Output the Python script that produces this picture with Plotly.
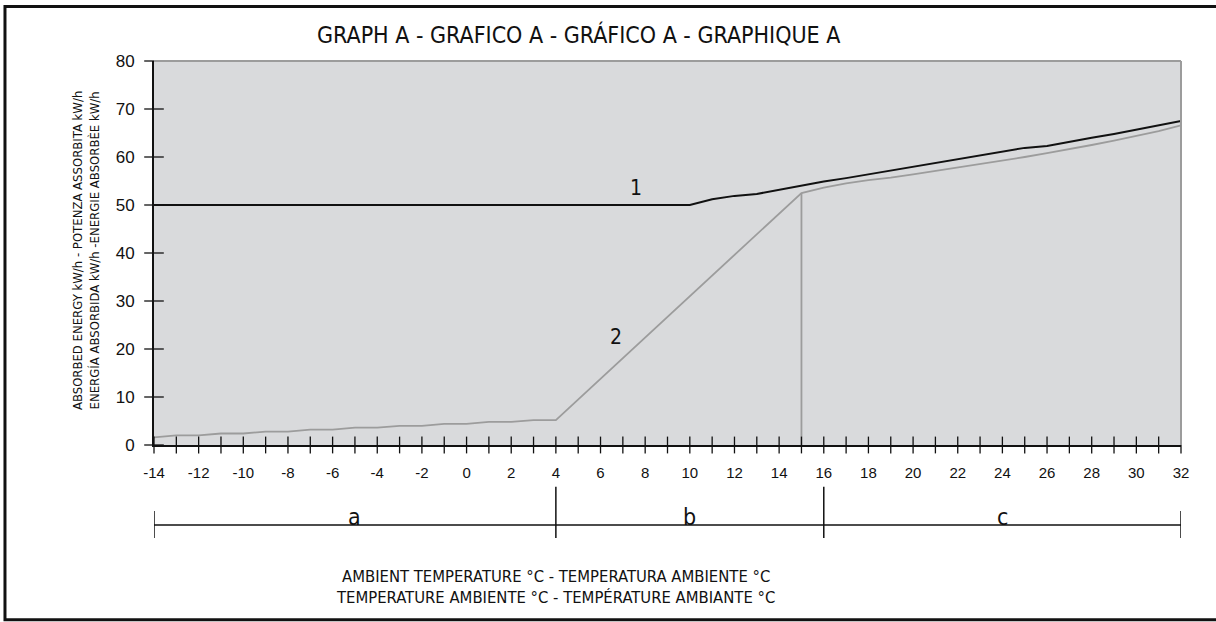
import plotly.graph_objects as go

# curve 1 (black) and curve 2 (grey)
temps_1 = list(range(-14, 33))
energy_1 = [50, 50, 50, 50, 50, 50, 50, 50, 50, 50, 50, 50, 50, 50, 50, 50, 50, 50, 50, 50, 50, 50, 50, 50, 50,
            51.2, 51.9, 52.3, 53.2, 54.1, 54.9, 55.6, 56.4, 57.2, 58.0, 58.7, 59.5, 60.3, 61.1, 61.9, 62.3,
            63.2, 64.0, 64.8, 65.7, 66.6, 67.5]

temps_2 = [-14, -13, -12, -11, -10, -9, -8, -7, -6, -5, -4, -3, -2, -1, 0, 1, 2, 3, 4,
           15, 16, 17, 18, 19, 20, 21, 22, 23, 24, 25, 26, 27, 28, 29, 30, 31, 32]
energy_2 = [1.6, 2.0, 2.0, 2.4, 2.4, 2.8, 2.8, 3.2, 3.2, 3.6, 3.6, 4.0, 4.0, 4.4, 4.4, 4.8, 4.8, 5.2, 5.2,
            52.5, 53.6, 54.5, 55.2, 55.7, 56.4, 57.1, 57.8, 58.6, 59.3, 60.0, 60.8, 61.6, 62.5, 63.4, 64.4, 65.4, 66.6]

drop_x = [15, 15]
drop_y = [0, 52.5]

x_ticks = list(range(-14, 33))
x_labels = [str(t) if t % 2 == 0 else "" for t in x_ticks]
y_ticks = [0, 10, 20, 30, 40, 50, 60, 70, 80]

zones = [-14, 4, 16, 32]
zone_names = ["a", "b", "c"]

curve_names = ["1", "2"]
curve_label_x = [7.6, 6.7]
curve_label_y = [53.6, 22.5]

NARROW = "DejaVu Sans Condensed, Liberation Sans Narrow, Arial Narrow, sans-serif"
REG = "Liberation Sans, Arial, sans-serif"
BLACK = "#111111"
GREY = "#9c9c9c"

fig = go.Figure()
fig.add_trace(go.Scatter(x=temps_2, y=energy_2, mode="lines", line=dict(color=GREY, width=1.8),
                         showlegend=False, hoverinfo="x+y"))
fig.add_trace(go.Scatter(x=drop_x, y=drop_y, mode="lines", line=dict(color=GREY, width=1.8),
                         showlegend=False, hoverinfo="skip"))
fig.add_trace(go.Scatter(x=temps_1, y=energy_1, mode="lines", line=dict(color=BLACK, width=2),
                         showlegend=False, hoverinfo="x+y"))

# crossing tick marks on both axes
fig.add_trace(go.Scatter(x=x_ticks, y=[0] * len(x_ticks), mode="markers", cliponaxis=False,
                         marker=dict(symbol="line-ns", size=12, line=dict(color=BLACK, width=1.3)),
                         showlegend=False, hoverinfo="skip"))
fig.add_trace(go.Scatter(x=[-14] * len(y_ticks), y=y_ticks, mode="markers", cliponaxis=False,
                         marker=dict(symbol="line-ew", size=14, line=dict(color=BLACK, width=1.3)),
                         showlegend=False, hoverinfo="skip"))

shapes = []
# plot area frame: top and right in grey
shapes.append(dict(type="line", xref="paper", yref="paper", x0=0, x1=1, y0=1, y1=1,
                   line=dict(color=GREY, width=2)))
shapes.append(dict(type="line", xref="paper", yref="paper", x0=1, x1=1, y0=0, y1=1,
                   line=dict(color=GREY, width=2)))
# outer frame (open on the right)
shapes.append(dict(type="rect", xref="paper", yref="paper", x0=-0.1451, x1=1.2, y0=-0.455, y1=1.142,
                   line=dict(color=BLACK, width=3)))

# zone bar under the axis
seg_y = -0.2083
shapes.append(dict(type="line", xref="x", yref="paper", x0=zones[0], x1=zones[-1], y0=seg_y, y1=seg_y,
                   line=dict(color=BLACK, width=1.5)))
for i, z in enumerate(zones):
    top = -0.172 if i in (0, len(zones) - 1) else -0.109
    shapes.append(dict(type="line", xref="x", yref="paper", x0=z, x1=z, y0=top, y1=-0.2422,
                       line=dict(color=BLACK, width=1.5)))

annotations = []
for i, name in enumerate(zone_names):
    annotations.append(dict(x=(zones[i] + zones[i + 1]) / 2, y=-0.188, xref="x", yref="paper",
                            text=name, showarrow=False, yanchor="middle",
                            font=dict(family=NARROW, size=23, color=BLACK)))
for n, lx, ly in zip(curve_names, curve_label_x, curve_label_y):
    annotations.append(dict(x=lx, y=ly, xref="x", yref="y", text=n, showarrow=False,
                            font=dict(family=NARROW, size=21, color=BLACK)))

annotations.append(dict(x=0.4129, y=1.0703, xref="paper", yref="paper", showarrow=False,
                        text="GRAPH A - GRAFICO A - GRÁFICO A - GRAPHIQUE A", xanchor="center",
                        yanchor="middle", font=dict(family=NARROW, size=23, color=BLACK)))
annotations.append(dict(x=-0.0662, y=0.505, xref="paper", yref="paper", showarrow=False, textangle=-90,
                        xanchor="center", yanchor="middle",
                        text="ABSORBED ENERGY kW/h - POTENZA ASSORBITA kW/h<br>"
                             "ENERGÍA ABSORBIDA kW/h -ENERGIE ABSORBÈE kW/h",
                        font=dict(family=NARROW, size=13, color=BLACK)))
annotations.append(dict(x=0.3905, y=-0.3698, xref="paper", yref="paper", showarrow=False,
                        text="AMBIENT TEMPERATURE °C - TEMPERATURA AMBIENTE °C<br>"
                             "TEMPERATURE AMBIENTE °C - TEMPÉRATURE AMBIANTE °C", xanchor="center",
                        yanchor="middle", font=dict(family=NARROW, size=16.5, color=BLACK)))

fig.update_layout(
    width=1216, height=622,
    margin=dict(l=154, r=35, t=61, b=177),
    paper_bgcolor="white",
    plot_bgcolor="#d9dadc",
    shapes=shapes,
    annotations=annotations,
    xaxis=dict(range=[-14, 32], tickvals=x_ticks, ticktext=x_labels, ticks="", showgrid=False,
               zeroline=False, ticklabelstandoff=13, showline=True, linecolor=BLACK, linewidth=2,
               tickfont=dict(family=REG, size=15, color=BLACK)),
    yaxis=dict(range=[0, 80], tickvals=y_ticks, ticks="", showgrid=False, zeroline=False,
               showline=True, linecolor=BLACK, ticklabelstandoff=14, linewidth=2,
               tickfont=dict(family=REG, size=17, color=BLACK)),
)

fig.write_html("out.html", config={"displayModeBar": False},
               post_script="document.body.style.margin='0';")
